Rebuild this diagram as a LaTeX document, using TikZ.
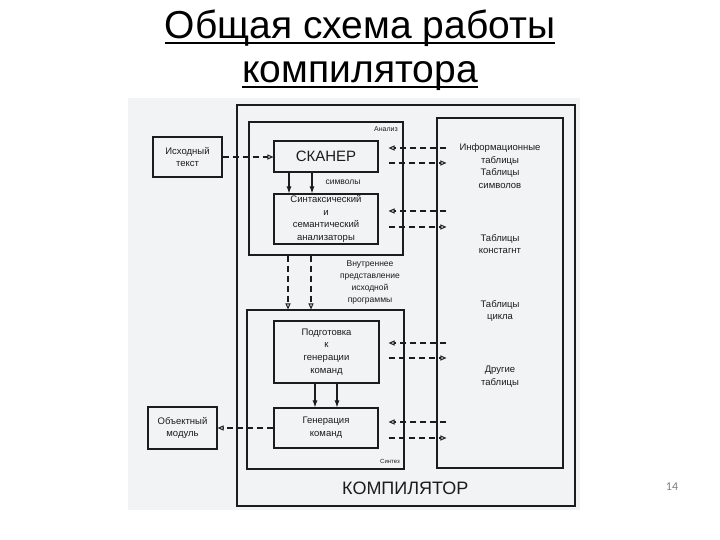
\documentclass[tikz,border=0pt]{standalone}
\usepackage{fontspec}
\setmainfont{Liberation Sans}
\newfontfamily\titlefont{Liberation Sans}
\newfontfamily\pagefont{Carlito}
\usetikzlibrary{arrows.meta,calc}
\definecolor{scanbg}{RGB}{241,243,244}
\definecolor{ink}{RGB}{28,28,28}
\begin{document}
\begin{tikzpicture}[x=1pt,y=-1pt,
  box/.style={draw=ink, line width=1.1pt, inner sep=0pt, align=center, text=ink,
    font=\fontsize{9.5}{12.7}\selectfont},
  frame/.style={draw=ink, line width=1.1pt, inner sep=0pt},
  txt/.style={inner sep=0pt, align=center, text=ink, font=\fontsize{9.5}{12.7}\selectfont},
  dl/.style={draw=ink, line width=1.1pt, dash pattern=on 6pt off 4pt},
  oarr/.style={-{Triangle[open,length=6pt,width=5pt,line width=1pt]}},
  sarr/.style={draw=ink, line width=1.1pt, -{Latex[length=7pt,width=5pt]}}
]
\useasboundingbox (0,0) rectangle (720,540);
\fill[white] (0,0) rectangle (720,540);
% scanned photo area
\fill[scanbg] (128,98) rectangle (580,510);

% title
\node[anchor=base, inner sep=0pt, font=\titlefont\fontsize{39}{44}\selectfont] (t1) at (360,39) {Общая схема работы};
\node[anchor=base, inner sep=0pt, font=\titlefont\fontsize{39}{44}\selectfont] (t2) at (360,83) {компилятора};
\draw[line width=2pt] ($(t1.base west)+(0,4)$) -- ($(t1.base east)+(0,4)$);
\draw[line width=2pt] ($(t2.base west)+(0,4)$) -- ($(t2.base east)+(0,4)$);

% page number
\node[inner sep=0pt, text=gray, font=\pagefont\fontsize{12}{14}\selectfont] (pg) at (672,487) {14};

% frames
\node[frame, minimum width=338pt, minimum height=401pt] (compiler) at (406,305.5) {};
\node[frame, minimum width=154pt, minimum height=133pt] (analysis) at (326,188.5) {};
\node[frame, minimum width=157pt, minimum height=159pt] (synthesis) at (325.5,389.5) {};
\node[frame, minimum width=126pt, minimum height=350pt] (tables) at (500,293) {};

% boxes
\node[box, minimum width=104pt, minimum height=31pt, font=\fontsize{15}{17}\selectfont] (scanner) at (326,156.5) {СКАНЕР};
\node[box, minimum width=104pt, minimum height=50pt] (syntax) at (326,219) {Синтаксический\\и\\семантический\\анализаторы};
\node[box, minimum width=105pt, minimum height=62pt] (prep) at (326.5,352) {Подготовка\\к\\генерации\\команд};
\node[box, minimum width=104pt, minimum height=40pt] (gen) at (326,428) {Генерация\\команд};
\node[box, minimum width=69pt, minimum height=40pt] (src) at (187.5,157) {Исходный\\текст};
\node[box, minimum width=69pt, minimum height=42pt] (obj) at (182.5,428) {Объектный\\модуль};

% table texts
\node[txt] (ti1) at (500,166) {Информационные\\таблицы\\Таблицы\\символов};
\node[txt] (ti2) at (500,244) {Таблицы\\констагнт};
\node[txt] (ti3) at (500,311) {Таблицы\\цикла};
\node[txt] (ti4) at (500,377) {Другие\\таблицы};

% labels
\node[txt, anchor=east, font=\fontsize{7}{8}\selectfont] (lan) at (398,129) {Анализ};
\node[txt, anchor=east, font=\fontsize{6}{7}\selectfont] (lsy) at (400,461) {Синтез};
\node[txt, font=\fontsize{8.5}{10}\selectfont] (lsym) at (343,182) {символы};
\node[txt, font=\fontsize{8.5}{11.7}\selectfont] (lint) at (370,282.5) {Внутреннее\\представление\\исходной\\программы};
\node[inner sep=0pt, anchor=west, text=ink, font=\fontsize{18}{20}\selectfont] (comp) at (342,488) {КОМПИЛЯТОР};

% connectors
\coordinate (L) at ($(scanner.east)+(10,0)$);
\coordinate (R) at ($(tables.west)+(10,0)$);

\draw[dl,oarr] (src.east) -- (scanner.west |- src.east);
\draw[dl,oarr] (gen.west |- obj.east) -- (obj.east);

\draw[dl,oarr] (R |- 0,148) -- (L |- 0,148);
\draw[dl,oarr] (L |- 0,163) -- (R |- 0,163);
\draw[dl,oarr] (R |- 0,211) -- (L |- 0,211);
\draw[dl,oarr] (L |- 0,227) -- (R |- 0,227);
\draw[dl,oarr] (R |- 0,343) -- (L |- 0,343);
\draw[dl,oarr] (L |- 0,358) -- (R |- 0,358);
\draw[dl,oarr] (R |- 0,422) -- (L |- 0,422);
\draw[dl,oarr] (L |- 0,438) -- (R |- 0,438);

\draw[sarr] (289,0 |- scanner.south) -- (289,0 |- syntax.north);
\draw[sarr] (312,0 |- scanner.south) -- (312,0 |- syntax.north);
\draw[dl,oarr] (288,0 |- analysis.south) -- (288,0 |- synthesis.north);
\draw[dl,oarr] (311,0 |- analysis.south) -- (311,0 |- synthesis.north);
\draw[sarr] (315,0 |- prep.south) -- (315,0 |- gen.north);
\draw[sarr] (337,0 |- prep.south) -- (337,0 |- gen.north);
\end{tikzpicture}
\end{document}
